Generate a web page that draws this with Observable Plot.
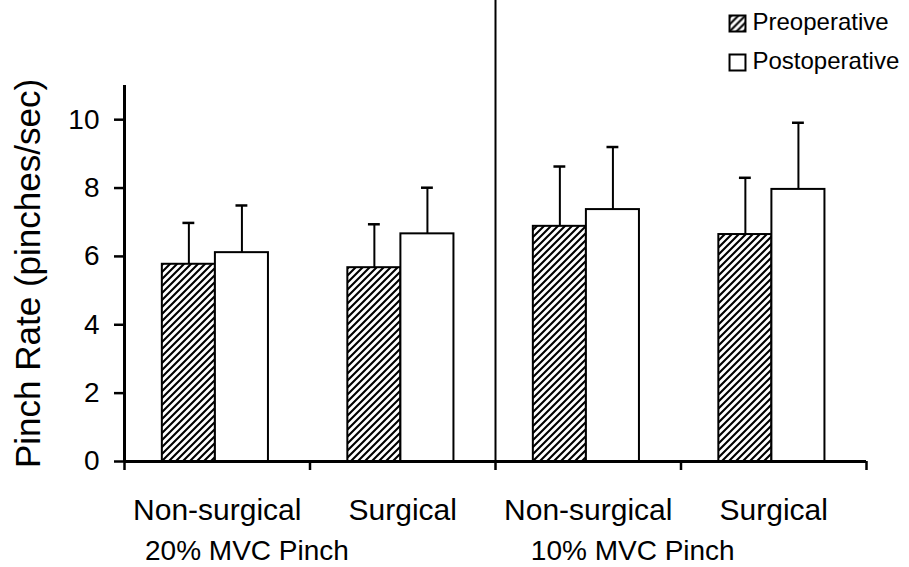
<!DOCTYPE html>
<html>
<head>
<meta charset="utf-8">
<script src="https://cdn.jsdelivr.net/npm/d3@7"></script>
<script src="https://cdn.jsdelivr.net/npm/@observablehq/plot@0.6"></script>
<style>
  html, body { margin: 0; padding: 0; background: white; }
</style>
</head>
<body>
<div id="chart"></div>
<script>
// ---- data ----
const categories = ["Non-surgical", "Surgical", "Non-surgical", "Surgical"];
const pinchLevels = ["20% MVC Pinch", "10% MVC Pinch"];
const seriesNames = ["Preoperative", "Postoperative"];
const preMean  = [5.77, 5.67, 6.88, 6.64];
const preSD    = [1.21, 1.27, 1.75, 1.66];
const postMean = [6.11, 6.66, 7.37, 7.96];
const postSD   = [1.38, 1.35, 1.83, 1.95];
const yTicks   = [0, 2, 4, 6, 8, 10];

// ---- layout (not data) ----
const barW = 0.286;      // bar width in group units
const pairCenter = 0.49; // center of the bar pair within a group
const capHalf = 0.032;   // half-width of error caps
const pinchLabelX = [0.66, 2.74];

const rows = [];
categories.forEach((c, i) => {
  rows.push({i, series: "pre", mean: preMean[i], top: preMean[i] + preSD[i],
             x1: i + pairCenter - barW, x2: i + pairCenter});
  rows.push({i, series: "post", mean: postMean[i], top: postMean[i] + postSD[i],
             x1: i + pairCenter, x2: i + pairCenter + barW});
});
rows.forEach(r => r.cx = (r.x1 + r.x2) / 2);

const font = "'Liberation Sans', Arial, sans-serif";

const svg = Plot.plot({
  width: 909,
  height: 567,
  marginLeft: 124,
  marginRight: 43,
  marginTop: 85,
  marginBottom: 106,
  style: {fontFamily: font, fontSize: "27px", background: "white", color: "black", overflow: "visible"},
  x: {type: "linear", domain: [0, 4], axis: null},
  y: {domain: [0, 11], axis: null},
  marks: [
    // bars
    Plot.rectY(rows, {
      x1: "x1", x2: "x2", y1: 0, y2: "mean",
      fill: d => d.series === "pre" ? "url(#hatch)" : "white",
      stroke: "black", strokeWidth: 2
    }),
    // error bars
    Plot.ruleX(rows, {x: "cx", y1: "mean", y2: "top", stroke: "black", strokeWidth: 2}),
    Plot.ruleY(rows, {y: "top", x1: d => d.cx - capHalf, x2: d => d.cx + capHalf, stroke: "black", strokeWidth: 2.5}),
    // divider between pinch levels
    Plot.ruleX([2], {insetTop: -85, stroke: "black", strokeWidth: 2}),
    // axes
    Plot.ruleX([0], {stroke: "black", strokeWidth: 3}),
    Plot.ruleY([0], {stroke: "black", strokeWidth: 3}),
    Plot.axisY({ticks: yTicks, tickSize: 10, tickFormat: () => "", label: null,
                strokeWidth: 2.5}),
    Plot.text(yTicks, {y: d => d, frameAnchor: "left", dx: -25, textAnchor: "end",
                       lineAnchor: "middle", text: d => String(d), fontSize: 28, fill: "black"}),
    Plot.axisX({ticks: [0, 1, 2, 3, 4], tickFormat: () => "", tickSize: 9, label: null,
                strokeWidth: 2.5}),
    // category labels
    Plot.text(categories, {x: (d, i) => i + 0.5, y: () => 0, dy: 49, text: d => d,
                           fontSize: 30, fill: "black"}),
    // pinch level labels
    Plot.text(pinchLevels, {x: (d, i) => pinchLabelX[i], y: () => 0, dy: 90, text: d => d,
                            fontSize: 28, fill: "black"}),
    // y-axis title
    Plot.text(["Pinch Rate (pinches/sec)"], {frameAnchor: "left", dx: -96, rotate: -90,
                                            textAnchor: "middle", lineAnchor: "middle",
                                            fontSize: 35, fill: "black"}),
    // legend
    Plot.dot([seriesNames[0]], {frameAnchor: "top-right", dx: -129, dy: -62, symbol: "square",
                                r: 9, fill: "url(#hatch)", stroke: "black", strokeWidth: 2}),
    Plot.dot([seriesNames[1]], {frameAnchor: "top-right", dx: -129, dy: -23, symbol: "square",
                                r: 9, fill: "white", stroke: "black", strokeWidth: 2}),
    Plot.text([seriesNames[0]], {frameAnchor: "top-right", dx: -114, dy: -63, textAnchor: "start",
                                 lineAnchor: "middle", text: d => d, fontSize: 24, fill: "black"}),
    Plot.text([seriesNames[1]], {frameAnchor: "top-right", dx: -114, dy: -24, textAnchor: "start",
                                 lineAnchor: "middle", text: d => d, fontSize: 24, fill: "black"})
  ]
});

const ns = "http://www.w3.org/2000/svg";
const defs = document.createElementNS(ns, "defs");
defs.innerHTML = `<pattern id="hatch" patternUnits="userSpaceOnUse" width="7" height="7">
  <rect width="7" height="7" fill="white"/>
  <path d="M-1,1 l2,-2 M0,7 l7,-7 M6,8 l2,-2" stroke="black" stroke-width="2.1"/>
</pattern>`;
svg.insertBefore(defs, svg.firstChild);

document.getElementById("chart").appendChild(svg);
</script>
</body>
</html>
